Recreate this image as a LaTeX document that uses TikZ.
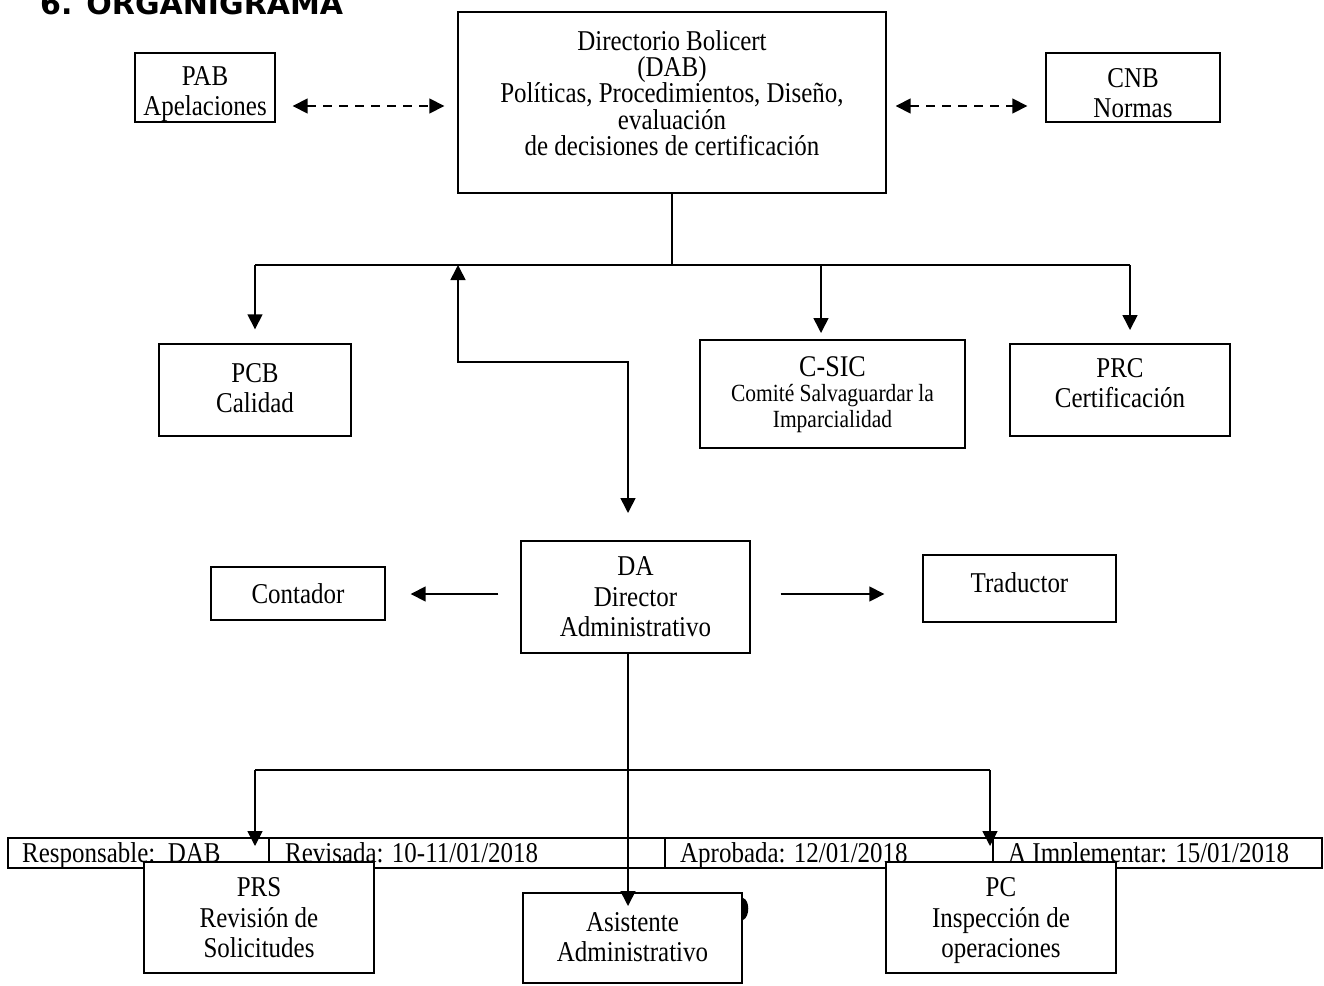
\documentclass[tikz,border=0pt]{standalone}
\usepackage{fontspec}
\setmainfont[FakeStretch=0.87]{Liberation Serif}
\newfontfamily\titlefont{DejaVu Sans}
\usetikzlibrary{arrows.meta}
\tikzset{
  box/.style={draw, line width=1.4pt, fill=white, inner sep=0pt},
  txt/.style={align=center, inner sep=0pt, font=\fontsize{28.7}{30.5}\selectfont},
  txttight/.style={align=center, inner sep=0pt, font=\fontsize{28.7}{26.3}\selectfont},
  ftxt/.style={anchor=base west, inner sep=0pt, font=\fontsize{28.7}{30}\selectfont},
  conn/.style={line width=1.6pt},
  tipa/.tip={Triangle[length=15pt,width=15pt]},
  arr/.style={conn, -tipa},
  darr/.style={conn, tipa-tipa},
  dasharr/.style={line width=1.6pt, dash pattern=on 9pt off 7pt, tipa-tipa}
}
\begin{document}
\begin{tikzpicture}[x=1pt,y=-1pt]
\useasboundingbox (0,0) rectangle (1324,985);
\clip (0,0) rectangle (1324,985);
\fill[white] (0,0) rectangle (1324,985);

% title
\node[anchor=base west, inner sep=0pt, font=\titlefont\bfseries\fontsize{30}{36}\selectfont] (title) at (40,14) {6. ORGANIGRAMA};

% footer table
\draw[line width=1.4pt] (8,838) rectangle (1322,868);
\draw[line width=1.4pt] (269,838) -- (269,868) (665,838) -- (665,868) (993,838) -- (993,868);
\node[ftxt] (f1) at (22,862) {Responsable:\ \ DAB};
\node[ftxt] (f2) at (285,862) {Revisada: 10-11/01/2018};
\node[ftxt] (f3) at (680,862) {Aprobada: 12/01/2018};
\node[ftxt] (f4) at (1008,862) {A Implementar: 15/01/2018};

% boxes
\node[box, minimum width=428pt, minimum height=181pt] (dab) at (672,102.5) {};
\node[txttight] (dabt) at (672,93) {Directorio Bolicert\\(DAB)\\Políticas, Procedimientos, Diseño,\\evaluación\\de decisiones de certificación};

\node[box, minimum width=140pt, minimum height=69pt] (pab) at (205,87.5) {};
\node[txt] (pabt) at (205,94) {PAB\\Apelaciones};

\node[box, minimum width=174pt, minimum height=69pt] (cnb) at (1133,87.5) {};
\node[txt] (cnbt) at (1133,93) {CNB\\Normas};

\node[box, minimum width=192pt, minimum height=92pt] (pcb) at (255,390) {};
\node[txt] (pcbt) at (255,388) {PCB\\Calidad};

\node[box, minimum width=265pt, minimum height=108pt] (csic) at (832.5,394) {};
\node[inner sep=0pt, align=center, font=\fontsize{30}{30}\selectfont] (csict) at (832.5,367) {C-SIC};
\node[inner sep=0pt, align=center, font=\fontsize{24.7}{26}\selectfont] (csicd) at (832.5,409) {Comité Salvaguardar la\\Imparcialidad};

\node[box, minimum width=220pt, minimum height=92pt] (prc) at (1120,390) {};
\node[txt] (prct) at (1120,383) {PRC\\Certificación};

\node[box, minimum width=229pt, minimum height=112pt] (da) at (635.5,597) {};
\node[txt] (dat) at (635.5,597) {DA\\Director\\Administrativo};

\node[box, minimum width=174pt, minimum height=53pt] (cont) at (298,593.5) {};
\node[txt] (contt) at (298,594) {Contador};

\node[box, minimum width=193pt, minimum height=67pt] (trad) at (1019.5,588.5) {};
\node[txt] (tradt) at (1019.5,583) {Traductor};

\node[box, minimum width=230pt, minimum height=111pt] (prs) at (259,917.5) {};
\node[txt] (prst) at (259,918) {PRS\\Revisión de\\Solicitudes};

\node[box, minimum width=219pt, minimum height=90pt] (asis) at (632.5,938) {};
\node[txt] (asist) at (632.5,937) {Asistente\\Administrativo};

\node[box, minimum width=230pt, minimum height=111pt] (pc) at (1001,917.5) {};
\node[txt] (pct) at (1001,921) {PC\\Inspección de\\operaciones};

% stray glyph fragment
\fill (743,898) .. controls (750,900) and (750,917) .. (743,920) -- cycle;

% connectors
\draw[dasharr] ([xshift=17pt]pab.east |- 0,106) -- ([xshift=-13pt]dab.west |- 0,106);
\draw[dasharr] ([xshift=9pt]dab.east |- 0,106) -- ([xshift=-18pt]cnb.west |- 0,106);

\coordinate (busL) at (255,265);
\coordinate (busR) at (1130,265);
\coordinate (busC) at (821,265);
\coordinate (busU) at (458,265);
\draw[conn] (dab.south) -- (dab.south |- busL);
\draw[conn] (busL) -- (busR);
\draw[arr] (busL) -- ([yshift=14pt]pcb.north);
\draw[arr] (busC) -- (821,333);
\draw[arr] (busR) -- (1130,330);
\draw[darr] (busU) -- (458,362) -- (628,362) -- (628,513);

\draw[arr] (da.west |- 0,594) ++(-22,0) coordinate (cl) -- ([xshift=25pt]cont.east |- cl);
\draw[arr] (da.east |- 0,594) ++(30,0) coordinate (cr) -- ([xshift=-38pt]trad.west |- cr);

\coordinate (daB) at (628,653);
\coordinate (bL) at (255,770);
\coordinate (bR) at (990,770);
\draw[arr] (daB) -- (628,906);
\draw[conn] (bL) -- (bR);
\draw[arr] (bL) -- (255,846);
\draw[arr] (bR) -- (990,846);
\end{tikzpicture}
\end{document}
